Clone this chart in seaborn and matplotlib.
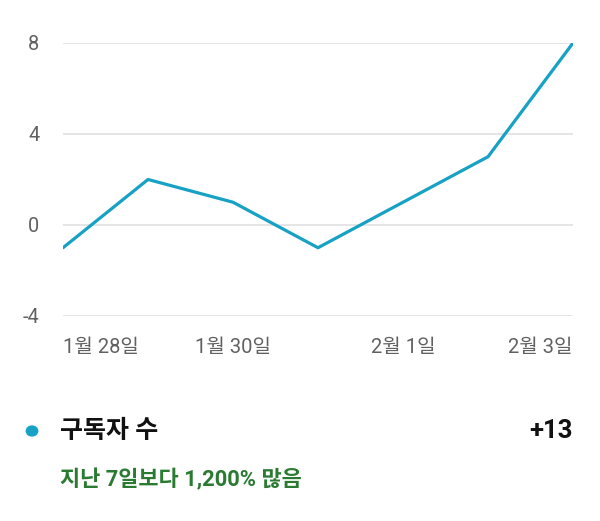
import numpy as np
import pandas as pd
import matplotlib
matplotlib.use('Agg')
import matplotlib.pyplot as plt
import seaborn as sns

# Data
dates = ['1월 28일', '1월 29일', '1월 30일', '1월 31일', '2월 1일', '2월 2일', '2월 3일']
subscribers = [-1, 2, 1, -1, 1, 3, 8]
tick_days = [0, 2, 4, 6]
y_ticks = [-4, 0, 4, 8]
series_name = '구독자 수'
total_label = '+13'
change_label = '지난 7일보다 1,200% 많음'

df = pd.DataFrame({'day': np.arange(len(dates)), 'value': subscribers})

sns.set_theme(style='white')
plt.rcParams['font.family'] = ['Roboto', 'Noto Sans CJK KR', 'DejaVu Sans']

line_color = '#17a2c5'
fig = plt.figure(figsize=(6, 5.21), dpi=100)
ax = fig.add_axes([0.105, 0.3935, 0.85, 0.524])

sns.lineplot(data=df, x='day', y='value', ax=ax, color=line_color, linewidth=2.3)

ax.set_xlim(0, len(dates) - 1)
ax.set_ylim(-4, 8)
ax.set_yticks(y_ticks)
ax.set_yticklabels([str(v) for v in y_ticks])
ax.set_xticks(tick_days)
ax.set_xticklabels([dates[i] for i in tick_days])
labels = ax.get_xticklabels()
labels[0].set_ha('left')
labels[-1].set_ha('right')

ax.yaxis.grid(True, color='#e3e3e3', linewidth=1.3)
ax.xaxis.grid(False)
for s in ax.spines.values():
    s.set_visible(False)
ax.tick_params(axis='y', length=0, pad=17, labelsize=14.3, labelcolor='#616161')
ax.tick_params(axis='x', length=0, pad=15.5, labelsize=14.5, labelcolor='#616161')
ax.set_xlabel('')
ax.set_ylabel('')

# Legend / summary below the chart
fig.patches.append(plt.Circle((32 / 600, 1 - 431 / 521), 0.0095, transform=fig.transFigure,
                              color=line_color, figure=fig))
fig.text(60 / 600, 1 - 431 / 521, series_name, fontsize=18, fontweight='bold',
         color='#111111', va='center', ha='left')
fig.text(573 / 600, 1 - 431 / 521, total_label, fontsize=18.5, fontweight='bold',
         color='#111111', va='center', ha='right')
fig.text(60 / 600, 1 - 480 / 521, change_label, fontsize=15.8, fontweight='bold',
         color='#2a7a32', va='center', ha='left')

fig.savefig('out.png', dpi=100)
